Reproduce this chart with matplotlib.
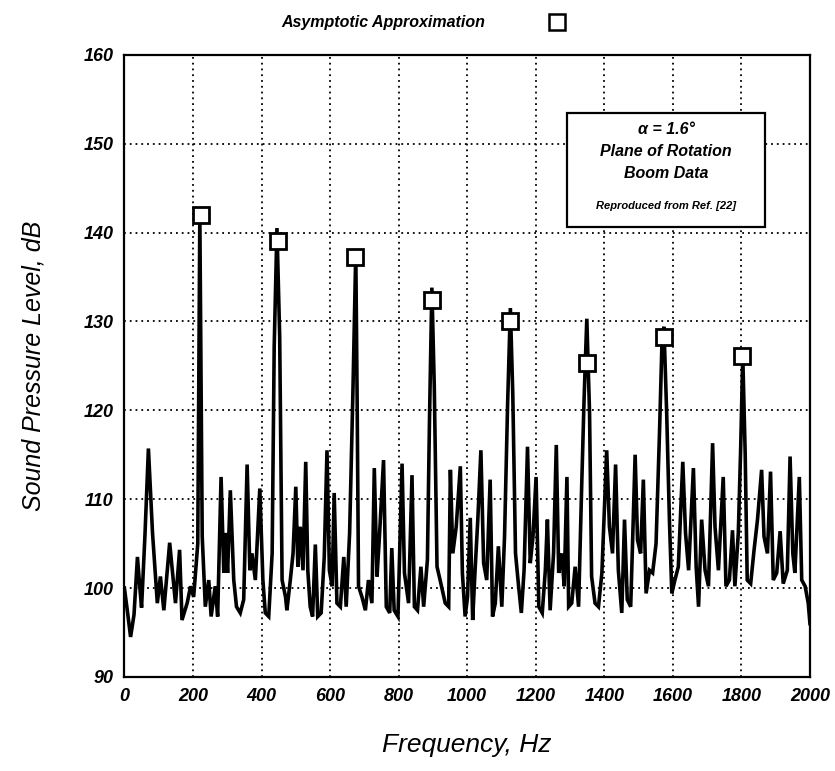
import matplotlib
matplotlib.use("Agg")
import matplotlib.pyplot as plt
from matplotlib.lines import Line2D
from matplotlib.patches import Rectangle

# ---- data ----
freq = [0, 10, 18, 28, 38, 44, 50, 60, 70, 82, 96, 105, 115, 132, 149, 161, 168, 183, 193, 202,
        214, 220, 227, 236, 246, 253, 265, 272, 282, 290, 295, 301, 309, 319, 327, 338, 348, 358,
        366, 372, 382, 395, 404, 411, 421, 431, 437, 445, 453, 460, 470, 474, 484, 492, 500, 506,
        513, 521, 529, 535, 542, 549, 557, 564, 574, 583, 591, 598, 606, 612, 620, 630, 640, 647,
        657, 667, 675, 679, 683, 693, 703, 712, 722, 729, 737, 744, 756, 764, 774, 780, 787, 798,
        810, 817, 829, 839, 846, 855, 865, 873, 884, 890, 897, 904, 912, 921, 936, 946, 951, 958,
        968, 980, 986, 994, 1001, 1009, 1016, 1023, 1031, 1040, 1048, 1057, 1067, 1074, 1082, 1091,
        1101, 1109, 1118, 1126, 1133, 1141, 1150, 1158, 1166, 1176, 1184, 1192, 1201, 1209, 1219,
        1228, 1234, 1242, 1252, 1260, 1267, 1276, 1283, 1291, 1296, 1305, 1315, 1325, 1334, 1341,
        1349, 1357, 1363, 1373, 1383, 1393, 1407, 1415, 1424, 1433, 1441, 1451, 1459, 1467, 1477,
        1490, 1497, 1506, 1514, 1522, 1532, 1541, 1551, 1561, 1568, 1574, 1582, 1590, 1597, 1606,
        1616, 1629, 1637, 1646, 1660, 1668, 1675, 1684, 1694, 1704, 1716, 1723, 1733, 1747, 1755,
        1765, 1774, 1781, 1791, 1798, 1804, 1811, 1817, 1827, 1837, 1847, 1859, 1866, 1876, 1885,
        1893, 1903, 1913, 1922, 1934, 1942, 1950, 1956, 1969, 1976, 1986, 1995, 2000]
spl = [100.0, 97.0, 94.5, 97.0, 103.5, 100.5, 97.8, 106.0, 115.7, 106.2, 98.3, 101.3, 97.5, 105.1,
       98.3, 104.3, 96.4, 98.3, 100.2, 99.0, 105.0, 142.0, 105.8, 97.9, 100.9, 96.8, 100.2, 96.8,
       112.5, 101.7, 106.2, 101.7, 111.0, 100.9, 97.9, 97.2, 98.7, 113.9, 102.0, 103.9, 100.9,
       111.2, 100.9, 97.2, 96.8, 103.9, 127.2, 140.5, 128.3, 100.9, 99.0, 97.5, 100.9, 103.9,
       111.4, 102.4, 106.9, 102.0, 114.2, 102.0, 97.9, 96.8, 104.9, 96.8, 97.2, 103.5, 115.5,
       102.0, 100.2, 110.7, 98.3, 97.9, 103.5, 97.9, 106.2, 122.7, 137.8, 121.0, 100.2, 99.0,
       97.5, 100.9, 98.3, 113.5, 101.3, 105.8, 114.4, 97.9, 97.2, 104.5, 97.5, 96.8, 114.0, 101.7,
       98.3, 112.7, 97.9, 97.5, 102.4, 97.9, 103.2, 118.9, 133.8, 122.7, 102.4, 100.9, 98.3, 97.9,
       113.3, 103.9, 106.9, 113.7, 101.7, 96.8, 99.0, 107.9, 96.4, 102.0, 107.7, 115.5, 102.8,
       100.9, 112.2, 96.8, 98.3, 104.7, 97.9, 105.8, 120.8, 131.5, 121.9, 103.9, 100.2, 97.2,
       102.0, 115.9, 102.8, 105.8, 112.5, 97.9, 97.2, 102.0, 107.7, 97.5, 103.9, 116.1, 101.7,
       103.9, 100.2, 112.5, 97.9, 98.3, 102.4, 97.9, 111.4, 121.2, 130.3, 119.7, 101.3, 98.3,
       97.9, 101.7, 115.5, 106.9, 103.9, 113.9, 102.0, 97.2, 107.7, 98.7, 97.9, 115.0, 105.4,
       103.9, 112.2, 99.4, 102.0, 101.7, 105.0, 117.4, 127.2, 129.4, 119.7, 107.7, 99.4, 100.9,
       102.4, 114.2, 106.2, 102.0, 113.5, 102.4, 97.9, 107.7, 102.0, 100.2, 116.3, 106.9, 102.0,
       112.5, 100.2, 100.9, 106.5, 100.2, 106.2, 115.9, 126.1, 115.2, 100.9, 100.5, 104.3, 107.7,
       113.3, 105.8, 103.9, 113.1, 100.9, 101.7, 106.4, 100.5, 102.0, 114.8, 103.9, 101.7, 112.5,
       100.9, 100.2, 98.3, 96.0]

harm_freq = [222, 447, 674, 898, 1126, 1351, 1575, 1803]
harm_spl = [142.0, 139.0, 137.3, 132.4, 130.0, 125.3, 128.2, 126.1]

xticks = [0, 200, 400, 600, 800, 1000, 1200, 1400, 1600, 1800, 2000]
yticks = [90, 100, 110, 120, 130, 140, 150, 160]

legend_label = "Asymptotic Approximation"
box_lines = ["α = 1.6°", "Plane of Rotation", "Boom Data", "Reproduced from Ref. [22]"]

# ---- figure ----
plt.rcParams['font.family'] = ['Liberation Sans', 'DejaVu Sans']
fig = plt.figure(figsize=(8.35, 7.71), dpi=100)
ax = fig.add_axes([0.149, 0.122, 0.821, 0.807])

ax.plot(freq, spl, color='black', lw=2.6, solid_joinstyle='miter', zorder=3)
ax.plot(harm_freq, harm_spl, ls='none', marker='s', ms=12, mfc='white', mec='black',
        mew=2.0, zorder=4)

ax.set_xlim(0, 2000)
ax.set_ylim(90, 160)
ax.set_xticks(xticks)
ax.set_yticks(yticks)
ax.tick_params(length=0, pad=8)
for lab in ax.get_xticklabels() + ax.get_yticklabels():
    lab.set_fontsize(13)
    lab.set_fontweight('bold')
    lab.set_fontstyle('italic')

ax.grid(True, ls=(0, (1, 2.2)), color='black', lw=1.3)
for s in ax.spines.values():
    s.set_linewidth(1.6)

ax.set_xlabel("Frequency, Hz", fontsize=19, fontstyle='italic', labelpad=20)
ax.set_ylabel("Sound Pressure Level, dB", fontsize=18, fontstyle='italic', labelpad=27)

# legend at top
fig.text(0.581, 0.971, legend_label, ha='right', va='center', fontsize=11.5,
         fontstyle='italic', fontweight='bold')
fig.add_artist(Line2D([0.667], [0.971], transform=fig.transFigure, marker='s', ms=12,
                      mfc='white', mec='black', mew=1.8, ls='none'))

# annotation box
ax.add_patch(Rectangle((1290, 140.6), 580, 12.9, fc='white', ec='black', lw=1.6, zorder=6))
for txt, yy in zip(box_lines[:3], [151.6, 149.1, 146.6]):
    ax.text(1580, yy, txt, ha='center', va='center', fontsize=11.5,
            fontstyle='italic', fontweight='bold', zorder=7)
ax.text(1580, 143.0, box_lines[3], ha='center', va='center', fontsize=8,
        fontstyle='italic', fontweight='bold', zorder=7)

fig.savefig("out.png", dpi=100)
